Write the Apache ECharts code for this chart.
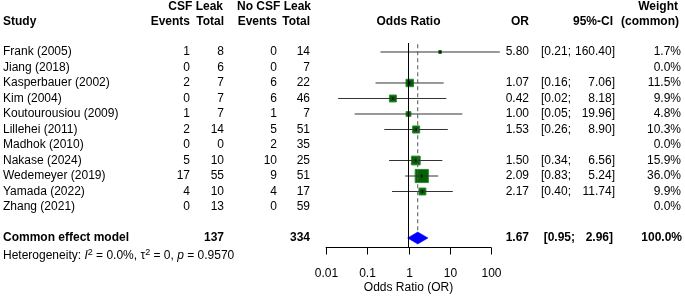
<!DOCTYPE html>
<html>
<head>
<meta charset="utf-8">
<script src="https://cdn.jsdelivr.net/npm/echarts@6/dist/echarts.min.js"></script>
<style>
html, body { margin: 0; padding: 0; background: #fff; }
#main { width: 685px; height: 296px; }
</style>
</head>
<body>
<div id="main"></div>
<script>
// ---- data ----
var studies = ['Frank (2005)', 'Jiang (2018)', 'Kasperbauer (2002)', 'Kim (2004)', 'Koutourousiou (2009)',
  'Lillehei (2011)', 'Madhok (2010)', 'Nakase (2024)', 'Wedemeyer (2019)', 'Yamada (2022)', 'Zhang (2021)'];
var csfEvents = [1, 0, 2, 0, 1, 2, 0, 5, 17, 4, 0];
var csfTotal = [8, 6, 7, 7, 7, 14, 0, 10, 55, 10, 13];
var noCsfEvents = [0, 0, 6, 6, 1, 5, 2, 10, 9, 4, 0];
var noCsfTotal = [14, 7, 22, 46, 7, 51, 35, 25, 51, 17, 59];
var oddsRatio = [5.80, null, 1.07, 0.42, 1.00, 1.53, null, 1.50, 2.09, 2.17, null];
var ciLow = [0.21, null, 0.16, 0.02, 0.05, 0.26, null, 0.34, 0.83, 0.40, null];
var ciHigh = [160.40, null, 7.06, 8.18, 19.96, 8.90, null, 6.56, 5.24, 11.74, null];
var weight = [1.7, 0.0, 11.5, 9.9, 4.8, 10.3, 0.0, 15.9, 36.0, 9.9, 0.0];

var pooledOR = 1.67, pooledLow = 0.95, pooledHigh = 2.96, pooledWeight = 100.0;
var totalCsf = 137, totalNoCsf = 334;
var xTicks = [0.01, 0.1, 1, 10, 100];
var xTickLabels = ['0.01', '0.1', '1', '10', '100'];

var FONT = '"Liberation Sans", Arial, sans-serif';
var SUMMARY_ROW = 12;
var Y_MIN = -0.58, Y_MAX = 12.58;

function txt(s, x, y, align, bold, size) {
  return {
    type: 'text',
    style: {
      text: s, x: x, y: y, fill: '#000',
      font: (bold ? 'bold ' : '') + (size || 12) + 'px ' + FONT,
      textAlign: align || 'left', textVerticalAlign: 'middle'
    }
  };
}

var chart = echarts.init(document.getElementById('main'));

var option = {
  backgroundColor: '#fff',
  animation: false,
  grid: { left: 325.7, width: 165.6, top: 43, height: 204 },
  xAxis: {
    type: 'log', logBase: 10, min: xTicks[0], max: xTicks[xTicks.length - 1],
    show: false
  },
  yAxis: { type: 'value', inverse: true, min: Y_MIN, max: Y_MAX, show: false },
  series: [
    // x axis (line, ticks, labels, title) and reference lines
    {
      type: 'custom', clip: false, silent: true, z: 5,
      data: [[1, 0]],
      renderItem: function (params, api) {
        var top = api.coord([1, Y_MIN]);
        var bot = api.coord([1, Y_MAX]);
        var d1 = api.coord([pooledOR, -0.5]);
        var d2 = api.coord([pooledOR, SUMMARY_ROW - 0.4]);
        var a0 = api.coord([xTicks[0], Y_MAX]);
        var a1 = api.coord([xTicks[xTicks.length - 1], Y_MAX]);
        var ay = Math.round(a0[1]) + 0.5;
        var ch = [
          { type: 'line', shape: { x1: top[0], y1: top[1], x2: bot[0], y2: ay }, style: { stroke: '#000', lineWidth: 1 } },
          { type: 'line', shape: { x1: d1[0], y1: d1[1], x2: d2[0], y2: d2[1] }, style: { stroke: '#555', lineWidth: 1, lineDash: [4, 3] } },
          { type: 'line', shape: { x1: a0[0], y1: ay, x2: a1[0], y2: ay }, style: { stroke: '#000', lineWidth: 1 } },
          txt('Odds Ratio (OR)', bot[0], ay + 40, 'center')
        ];
        xTicks.forEach(function (v, k) {
          var tx = Math.round(api.coord([v, Y_MAX])[0]) + 0.5;
          ch.push({ type: 'line', shape: { x1: tx, y1: ay, x2: tx, y2: ay + 7 }, style: { stroke: '#000', lineWidth: 1 } });
          ch.push(txt(xTickLabels[k], tx, ay + 26, 'center'));
        });
        return { type: 'group', children: ch };
      }
    },
    // study rows
    {
      type: 'custom', clip: false, silent: true, z: 3,
      data: studies.map(function (s, i) { return [1, i]; }),
      renderItem: function (params, api) {
        var i = api.value(1);
        var y = api.coord([1, i])[1];
        var ch = [
          txt(studies[i], 3, y, 'left'),
          txt(String(csfEvents[i]), 190, y, 'right'),
          txt(String(csfTotal[i]), 224, y, 'right'),
          txt(String(noCsfEvents[i]), 277, y, 'right'),
          txt(String(noCsfTotal[i]), 310, y, 'right'),
          txt(weight[i].toFixed(1) + '%', 681, y, 'right')
        ];
        if (oddsRatio[i] != null) {
          var p = api.coord([oddsRatio[i], i]);
          var lo = api.coord([ciLow[i], i])[0];
          var hi = api.coord([ciHigh[i], i])[0];
          var s = Math.sqrt(weight[i]) * 2.2;
          ch.push({ type: 'rect', shape: { x: p[0] - s / 2, y: y - s / 2, width: s, height: s },
            style: { fill: '#006400', stroke: '#2e8b2e', lineWidth: 1 } });
          ch.push({ type: 'line', shape: { x1: lo, y1: y, x2: hi, y2: y }, style: { stroke: '#333', lineWidth: 1 } });
          ch.push({ type: 'line', shape: { x1: p[0], y1: y - 1.5, x2: p[0], y2: y + 1.5 }, style: { stroke: '#000', lineWidth: 1 } });
          ch.push(txt(oddsRatio[i].toFixed(2), 529, y, 'right'));
          ch.push(txt('[' + ciLow[i].toFixed(2) + ';', 571, y, 'right'));
          ch.push(txt(ciHigh[i].toFixed(2) + ']', 615, y, 'right'));
        }
        return { type: 'group', children: ch };
      }
    },
    // common effect model row
    {
      type: 'custom', clip: false, silent: true, z: 4,
      data: [[pooledOR, SUMMARY_ROW]],
      renderItem: function (params, api) {
        var c = api.coord([pooledOR, SUMMARY_ROW]);
        var lo = api.coord([pooledLow, SUMMARY_ROW])[0];
        var hi = api.coord([pooledHigh, SUMMARY_ROW])[0];
        var y = c[1];
        return { type: 'group', children: [
          { type: 'polygon', shape: { points: [[lo, y], [c[0], y - 6], [hi, y], [c[0], y + 6]] },
            style: { fill: '#0000ff', stroke: '#0000ff', lineWidth: 0.5 } },
          txt('Common effect model', 3, y, 'left', true),
          txt(String(totalCsf), 224, y, 'right', true),
          txt(String(totalNoCsf), 310, y, 'right', true),
          txt(pooledOR.toFixed(2), 529, y, 'right', true),
          txt('[' + pooledLow.toFixed(2) + ';', 575, y, 'right', true),
          txt(pooledHigh.toFixed(2) + ']', 613, y, 'right', true),
          txt(pooledWeight.toFixed(1) + '%', 682, y, 'right', true)
        ] };
      }
    },
    // headers and heterogeneity line
    {
      type: 'custom', clip: false, silent: true,
      data: [[1, 0]],
      renderItem: function (params, api) {
        var y1 = api.coord([1, -2.9])[1];
        var y2 = api.coord([1, -1.94])[1];
        var y3 = api.coord([1, 13.15])[1];
        var xc = api.coord([1, 0])[0];
        return { type: 'group', children: [
          txt('CSF Leak', 223, y1, 'right', true),
          txt('No CSF Leak', 311, y1, 'right', true),
          txt('Weight', 678, y1, 'right', true),
          txt('Study', 3, y2, 'left', true),
          txt('Events', 190, y2, 'right', true),
          txt('Total', 224, y2, 'right', true),
          txt('Events', 277, y2, 'right', true),
          txt('Total', 310, y2, 'right', true),
          txt('Odds Ratio', xc, y2, 'center', true),
          txt('OR', 529, y2, 'right', true),
          txt('95%-CI', 613, y2, 'right', true),
          txt('(common)', 679, y2, 'right', true),
          {
            type: 'text',
            style: {
              x: 3, y: y3, textVerticalAlign: 'middle', fill: '#000',
              font: '12px ' + FONT,
              text: 'Heterogeneity: {i|I}{sup|2} = 0.0%, τ{sup|2} = 0, {i|p} = 0.9570',
              rich: {
                i: { fontStyle: 'italic', fontSize: 12, fontFamily: FONT, fill: '#000' },
                sup: { fontSize: 9, fontFamily: FONT, fill: '#000', verticalAlign: 'top', padding: [0, 0, 6, 0] }
              }
            }
          }
        ] };
      }
    }
  ]
};

chart.setOption(option);
</script>
</body>
</html>
